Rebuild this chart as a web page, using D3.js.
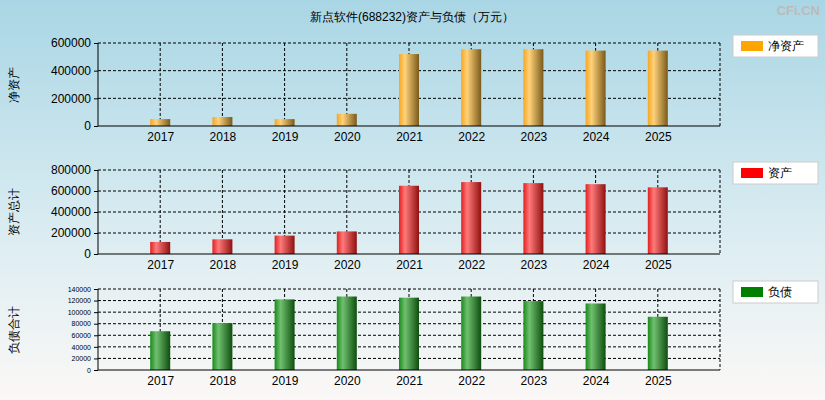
<!DOCTYPE html><html><head><meta charset="utf-8"><script src="https://cdn.jsdelivr.net/npm/d3@7"></script>
<style>body{margin:0}svg{display:block;font-family:"Liberation Sans",Arial,sans-serif}</style></head><body><svg id="c" width="825" height="400"></svg>
<script>
const years=["2017","2018","2019","2020","2021","2022","2023","2024","2025"];
const netAssets=[50000,65000,50000,88000,520000,555000,555000,545000,545000];
const totalAssets=[115000,140000,175000,215000,650000,685000,675000,665000,635000];
const liabilities=[67000,81000,122000,127000,125000,127000,119000,115000,92000];
const title="新点软件(688232)资产与负债（万元）";
const svg=d3.select("#c");
const defs=svg.append("defs");
const bg=defs.append("linearGradient").attr("id","bg").attr("x1",0).attr("y1",0).attr("x2",0).attr("y2",1);
bg.append("stop").attr("offset",0).attr("stop-color","#a9d6e5");
bg.append("stop").attr("offset",0.6).attr("stop-color","#dcedf2");
bg.append("stop").attr("offset",1).attr("stop-color","#fbf8f6");
svg.append("rect").attr("width",825).attr("height",400).attr("fill","url(#bg)");
svg.append("text").attr("x",412).attr("y",21).attr("text-anchor","middle").attr("font-size",12).text(title);
svg.append("text").attr("x",820).attr("y",15).attr("text-anchor","end").attr("font-size",13).attr("font-weight","bold").attr("fill","#bbb").text("CFi.CN");
function grad(id,base,light,dark){const g=defs.append("linearGradient").attr("id",id);
 g.append("stop").attr("offset",0).attr("stop-color",base);g.append("stop").attr("offset",0.3).attr("stop-color",light);g.append("stop").attr("offset",1).attr("stop-color",dark);}
grad("g1","#f5a623","#ffd27a","#7a5a1a");grad("g2","#e02020","#ff7a7a","#901010");grad("g3","#1a8a1a","#70c070","#0e4e0e");
const x=d3.scaleLinear().domain([-1,9]).range([98,720]);
const panels=[
 {data:netAssets,top:43,bot:126,max:600000,ticks:[0,200000,400000,600000],fs:12,label:"净资产",leg:"净资产",col:"#ffa500",g:"g1"},
 {data:totalAssets,top:170,bot:254,max:800000,ticks:[0,200000,400000,600000,800000],fs:12,label:"资产总计",leg:"资产",col:"#ff0000",g:"g2"},
 {data:liabilities,top:289,bot:370,max:140000,ticks:d3.range(0,140001,20000),fs:7,label:"负债合计",leg:"负债",col:"#008000",g:"g3"}];
panels.forEach(p=>{
 const y=d3.scaleLinear().domain([0,p.max]).range([p.bot,p.top]);
 const g=svg.append("g");
 p.ticks.forEach(t=>{if(t>0)g.append("line").attr("x1",98).attr("x2",720).attr("y1",y(t)).attr("y2",y(t)).attr("stroke","#000").attr("stroke-dasharray","3,2");});
 years.forEach((d,i)=>g.append("line").attr("x1",x(i)).attr("x2",x(i)).attr("y1",p.top).attr("y2",p.bot).attr("stroke","#000").attr("stroke-dasharray","3,2"));
 g.append("line").attr("x1",720).attr("x2",720).attr("y1",p.top).attr("y2",p.bot).attr("stroke","#000").attr("stroke-dasharray","3,2");
 g.selectAll("rect.b").data(p.data).join("rect").attr("x",(d,i)=>x(i)-10).attr("width",20).attr("y",d=>y(d)).attr("height",d=>p.bot-y(d)).attr("fill","url(#"+p.g+")");
 const ya=d3.axisLeft(y).tickValues(p.ticks).tickSize(4).tickFormat(d3.format("d"));
 const ag=g.append("g").attr("transform","translate(98,0)").call(ya);
 ag.select(".domain").attr("d",`M0,${p.top}V${p.bot}`);
 ag.selectAll("text").attr("font-size",p.fs).attr("fill","#000");
 const xa=d3.axisBottom(x).tickValues(d3.range(9)).tickFormat(i=>years[i]).tickSize(0).tickPadding(6);
 const xg=g.append("g").attr("transform",`translate(0,${p.bot})`).call(xa);
 xg.select(".domain").attr("d","M98,0H720");
 xg.selectAll("text").attr("font-size",12).attr("fill","#000");
 g.append("text").attr("transform",`translate(18,${(p.top+p.bot)/2}) rotate(-90)`).attr("text-anchor","middle").attr("font-size",12).text(p.label);
 const ly=p.top-8;
 g.append("rect").attr("x",733).attr("y",ly).attr("width",85).attr("height",22).attr("fill","#fff").attr("stroke","#ccc");
 g.append("rect").attr("x",741).attr("y",ly+6).attr("width",22).attr("height",10).attr("fill",p.col);
 g.append("text").attr("x",768).attr("y",ly+15).attr("font-size",12).text(p.leg);
});
</script></body></html>
